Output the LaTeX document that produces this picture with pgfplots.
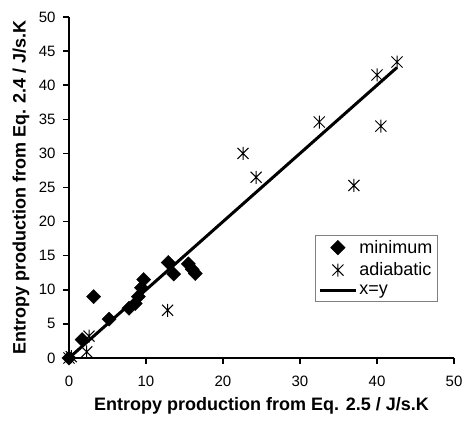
\documentclass[border=0pt]{standalone}
\usepackage{fontspec}
\setmainfont{Liberation Sans}
\usepackage{pgfplots}
\pgfplotsset{compat=1.18}
\usetikzlibrary{calc}
\pgfdeclareplotmark{xstar}{%
 \pgfpathmoveto{\pgfqpoint{0pt}{-\pgfplotmarksize}}%
 \pgfpathlineto{\pgfqpoint{0pt}{\pgfplotmarksize}}%
 \pgfpathmoveto{\pgfqpoint{-.85\pgfplotmarksize}{-.85\pgfplotmarksize}}%
 \pgfpathlineto{\pgfqpoint{.85\pgfplotmarksize}{.85\pgfplotmarksize}}%
 \pgfpathmoveto{\pgfqpoint{-.85\pgfplotmarksize}{.85\pgfplotmarksize}}%
 \pgfpathlineto{\pgfqpoint{.85\pgfplotmarksize}{-.85\pgfplotmarksize}}%
 \pgfusepathqstroke}
\begin{document}
\begin{tikzpicture}
\begin{axis}[name=ax, scale only axis, width=385pt, height=341pt,
  xmin=0, xmax=50, ymin=0, ymax=50,
  axis x line=bottom, axis y line=left,
  axis line style={-, line width=1.5pt},
  xtick={0,10,...,50}, ytick={0,5,...,50},
  tick align=outside, major tick length=6pt,
  tick style={line width=1.5pt, black},
  ticklabel style={font=\fontsize{15}{17}\selectfont},
  xticklabel style={yshift=-8pt},
  yticklabel style={xshift=-4pt},
  /pgf/number format/assume math mode=true,
  xlabel={Entropy production from Eq. 2.5 / J/s.K},
  ylabel={Entropy production from Eq. 2.4 / J/s.K},
  label style={font=\bfseries\fontsize{18}{21}\selectfont},
  xlabel style={at={(axis description cs:0.5,-0.14)}, anchor=center},
  ylabel style={at={(axis description cs:-0.125,0.5)}, anchor=center},
  clip=false,
  legend style={at={(0.639,0.361)}, anchor=north west, draw=gray, line width=0.8pt,
    font=\fontsize{18}{20}\selectfont, row sep=4pt, inner sep=3pt},
  legend cell align=left,
  legend image code/.code={\draw[mark repeat=2,mark phase=2,#1] plot coordinates {(0pt,0pt) (18pt,0pt) (36pt,0pt)};},
]
\addplot[only marks, mark=square*, mark size=5pt, mark options={rotate=45, fill=black, draw=black}]
coordinates {(0,0) (1.7,2.7) (3.2,9.0) (5.2,5.7) (7.8,7.3) (8.6,8.0) (9.0,9.0) (9.4,10.3) (9.7,11.5)
 (12.9,14.0) (13.6,12.3) (15.5,13.8) (16.0,13.0) (16.4,12.4)};
\addlegendentry{minimum}
\addplot[only marks, mark=xstar, mark size=6.5pt, mark options={line width=1pt, black}]
coordinates {(0,0) (0.3,0.2) (2.3,0.9) (2.6,3.2) (12.8,7.0) (22.6,30.0) (24.3,26.5) (32.5,34.6)
 (37.0,25.3) (40.0,41.5) (40.5,34.0) (42.6,43.4)};
\addlegendentry{adiabatic}
\addplot[black, line width=3pt, no marks] coordinates {(0,0) (42.6,42.6)};
\addlegendentry{x=y}
\end{axis}
\pgfresetboundingbox
\path ($(ax.south west)+(-69pt,-66pt)$) rectangle ($(ax.north east)+(10pt,17pt)$);
\end{tikzpicture}
\end{document}
